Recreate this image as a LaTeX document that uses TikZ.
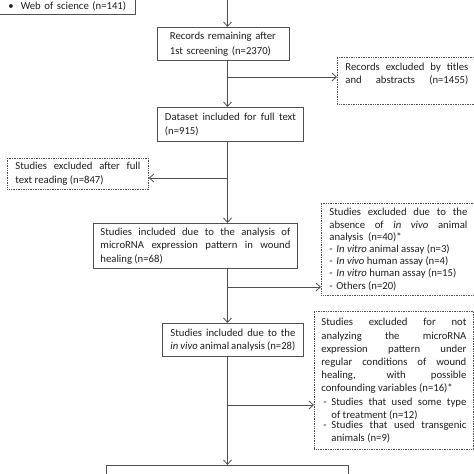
\documentclass[tikz,border=0pt]{standalone}
\usepackage{fontspec}
\setmainfont{Carlito}
\usetikzlibrary{arrows.meta,calc}
\definecolor{ln}{HTML}{505050}
\definecolor{tx}{HTML}{1E1E1E}
\newcommand\dep[1]{\rule[-#1]{0pt}{#1}}
\newcommand\dashitem[1]{\noindent\hspace*{2pt}\makebox[8pt][l]{-}\parbox[t]{135pt}{#1}\par}
\begin{document}
\begin{tikzpicture}[x=1pt,y=-1pt,
  sbox/.style={draw=ln, line width=0.9pt, anchor=north west, text=tx,
    inner xsep=7pt, inner ysep=4.5pt, align=justify,
    font=\fontsize{10.7}{13}\selectfont},
  dbox/.style={sbox, dash pattern=on 1pt off 0.7pt, line width=0.8pt},
  conn/.style={draw=ln, line width=0.8pt, -{Straight Barb[length=4.5pt,width=8pt]}}
]
\useasboundingbox (0,0) rectangle (474,474);

% top box (cut by the page edge)
\node[sbox, anchor=south west, text width=128pt, inner xsep=6pt, inner ysep=3pt,
  text height=30pt, text depth=2.5pt, align=left] (src) at (-5,15)
  {\hspace*{7pt}\textbullet\hspace{7pt}Web of science (n=141)};

\node[sbox, text width=107pt, inner xsep=12.5pt, inner ysep=4.5pt, align=left,
  font=\fontsize{10.7}{15}\selectfont] (rec) at (157,27)
  {Records remaining after\\1st screening (n=2370)};

\node[dbox, text width=123pt, inner xsep=8pt, inner ysep=6pt] (ex1) at (337,57)
  {Records excluded by titles\linebreak and\hfill abstracts\hfill (n=1455)\dep{15pt}};

\node[sbox, text width=131pt, inner xsep=7.5pt, inner ysep=5.5pt,
  font=\fontsize{10.7}{14}\selectfont] (ds) at (157,107)
  {Dataset included for full text\linebreak (n=915)};

\node[dbox, text width=125pt, inner xsep=8pt, inner ysep=4pt,
  font=\fontsize{10.7}{14}\selectfont] (ex2) at (7,158)
  {Studies excluded after full\linebreak text reading (n=847)};

\node[sbox, text width=190pt, inner xsep=7pt, inner ysep=4.5pt,
  font=\fontsize{10.7}{13.5}\selectfont] (inc) at (93,223)
  {Studies included due to the analysis of\linebreak microRNA expression pattern in wound\linebreak healing (n=68)};

\node[dbox, text width=138pt, inner xsep=8pt, inner ysep=5pt,
  font=\fontsize{10.7}{12.2}\selectfont] (ex3) at (321,203)
  {Studies excluded due to the\linebreak absence of \emph{in vivo} animal\linebreak analysis\ \ (n=40)*\par
   \noindent\makebox[7pt][l]{-}\emph{In vitro} animal assay (n=3)\par
   \noindent\makebox[7pt][l]{-}\emph{In vivo} human assay (n=4)\par
   \noindent\makebox[7pt][l]{-}\emph{In vitro} human assay (n=15)\par
   \noindent\makebox[7pt][l]{-}Others (n=20)};

\node[sbox, text width=125pt, inner xsep=8pt, inner ysep=5.5pt] (inv) at (162,323)
  {Studies included due to the\linebreak \emph{in vivo} animal analysis (n=28)};

\node[dbox, text width=145pt, inner xsep=7pt, inner ysep=7pt,
  font=\fontsize{10.7}{13.2}\selectfont] (ex4) at (314,311)
  {Studies excluded for not\linebreak analyzing the microRNA\linebreak expression pattern under\linebreak regular conditions of wound\linebreak healing, with possible\linebreak confounding variables (n=16)*\par
   \dashitem{Studies that used some type\linebreak of treatment (n=12)}
   \dashitem{Studies that used transgenic\linebreak animals (n=9)}};

\node[sbox, minimum width=242pt, minimum height=30pt] (fin) at (106,465) {};

% spine and branches
\coordinate (sp) at (227.5,-2);
\coordinate (b1) at ([yshift=-20pt]ex1.north west);
\coordinate (b2) at ([yshift=-20pt]ex2.north east);
\coordinate (b3) at ([yshift=-84pt]ex3.north west);
\coordinate (b4) at ([yshift=-94pt]ex4.north west);

\draw[conn] (sp) -- (rec.north -| sp);
\draw[conn] (rec.south -| sp) -- (ds.north -| sp);
\draw[conn] (sp |- b1) -- (b1);
\draw[conn] (ds.south -| sp) -- (inc.north -| sp);
\draw[conn] (sp |- b2) -- (b2);
\draw[conn] (inc.south -| sp) -- (inv.north -| sp);
\draw[conn] (sp |- b3) -- (b3);
\draw[conn] (inv.south -| sp) -- (fin.north -| sp);
\draw[conn] (sp |- b4) -- (b4);
\end{tikzpicture}
\end{document}
